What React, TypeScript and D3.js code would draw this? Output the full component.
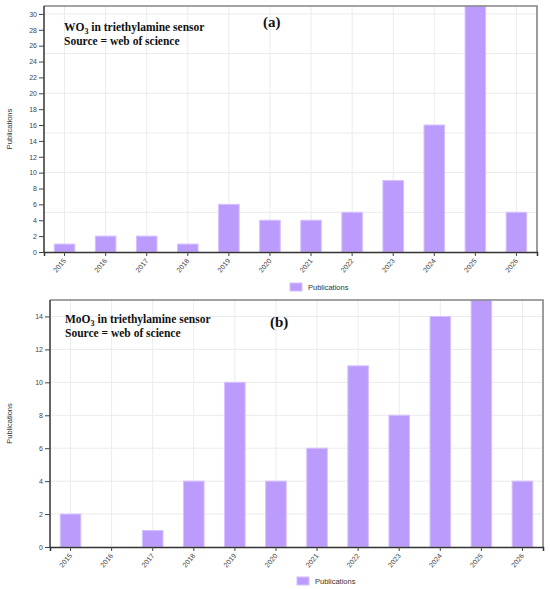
import React, { useEffect, useRef } from 'react';
import * as d3 from 'd3';

const years = ['2015', '2016', '2017', '2018', '2019', '2020', '2021', '2022', '2023', '2024', '2025', '2026'];
const wo3Counts = [1, 2, 2, 1, 6, 4, 4, 5, 9, 16, 31, 5];
const moo3Counts = [2, 0, 1, 4, 10, 4, 6, 11, 8, 14, 15, 4];

const wo3Ticks = d3.range(0, 31, 2);
const wo3Grid = [5, 10, 15, 20, 25, 30];
const moo3Ticks = d3.range(0, 15, 2);
const moo3Grid = d3.range(2, 15, 2);

const seriesName = 'Publications';
const sourceLine = 'Source = web of science';

interface PanelProps {
  values: number[];
  maxY: number;
  ticks: number[];
  grid: number[];
  left: number;
  right: number;
  top: number;
  bottom: number;
  oxide: string;
  letter: string;
  titleX: number;
  titleY: number;
  letterX: number;
  letterY: number;
  legendX: number;
  legendY: number;
}

const BAR_FILL = '#bb9cfc';
const BAR_STROKE = '#d4c0ff';

function drawPanel(root: d3.Selection<SVGGElement, unknown, null, undefined>, p: PanelProps) {
  const x = d3.scaleBand<string>().domain(years).range([p.left, p.right]).paddingInner(0.5).paddingOuter(0.25);
  const y = d3.scaleLinear().domain([0, p.maxY]).range([p.bottom, p.top]);

  const g = root.append('g');

  // light grid
  g.selectAll('.hgrid')
    .data(p.grid)
    .enter().append('line')
    .attr('x1', p.left).attr('x2', p.right)
    .attr('y1', d => y(d)).attr('y2', d => y(d))
    .attr('stroke', '#ebebeb').attr('stroke-width', 1);

  g.selectAll('.vgrid')
    .data(years)
    .enter().append('line')
    .attr('x1', d => x(d)! + x.bandwidth() / 2).attr('x2', d => x(d)! + x.bandwidth() / 2)
    .attr('y1', p.top).attr('y2', p.bottom)
    .attr('stroke', '#ebebeb').attr('stroke-width', 1);

  // bars
  g.selectAll('.bar')
    .data(p.values)
    .enter().append('rect')
    .attr('x', (d, i) => x(years[i])!)
    .attr('y', d => y(d))
    .attr('width', x.bandwidth())
    .attr('height', d => p.bottom - y(d))
    .attr('fill', BAR_FILL)
    .attr('stroke', d => (d > 0 ? BAR_STROKE : 'none'))
    .attr('stroke-width', 1);

  // top and right border
  g.append('path')
    .attr('d', `M${p.left},${p.top} H${p.right} V${p.bottom}`)
    .attr('fill', 'none')
    .attr('stroke', '#858585')
    .attr('stroke-width', 1.6);

  // axes
  const yAxis = g.append('g')
    .attr('transform', `translate(${p.left},0)`)
    .call(d3.axisLeft(y).tickValues(p.ticks).tickSize(5).tickSizeOuter(0).tickFormat(d3.format('d')));
  yAxis.select('.domain').attr('stroke', '#333').attr('stroke-width', 1.5)
    .attr('d', `M0,${p.top}V${p.bottom}`);
  yAxis.selectAll('.tick line').attr('stroke', '#444');
  yAxis.selectAll('.tick text')
    .attr('fill', '#444')
    .attr('x', -7)
    .style('font-family', 'Liberation Sans, Arial, sans-serif')
    .style('font-size', '7px');

  const xAxis = g.append('g')
    .attr('transform', `translate(0,${p.bottom})`)
    .call(d3.axisBottom(x).tickSize(4).tickSizeOuter(4));
  xAxis.select('.domain').attr('stroke', '#333').attr('stroke-width', 1.5);
  xAxis.selectAll('.tick line').attr('stroke', '#444');
  xAxis.selectAll('.tick text')
    .attr('fill', '#444')
    .attr('y', 0)
    .attr('dy', 0)
    .attr('text-anchor', 'end')
    .attr('transform', 'translate(2,9) rotate(-50)')
    .style('font-family', 'Liberation Sans, Arial, sans-serif')
    .style('font-size', '7px');

  // y label
  g.append('text')
    .attr('transform', `translate(${12},${(p.top + p.bottom) / 2}) rotate(-90)`)
    .attr('text-anchor', 'middle')
    .attr('fill', '#333')
    .style('font-family', 'Liberation Sans, Arial, sans-serif')
    .style('font-size', '7.5px')
    .text(seriesName);

  // title block
  const title = g.append('text')
    .attr('x', p.titleX)
    .attr('y', p.titleY)
    .attr('fill', '#111')
    .style('font-family', 'Liberation Serif, Times New Roman, serif')
    .style('font-weight', 'bold')
    .style('font-size', '11.5px');
  title.append('tspan').text(p.oxide);
  title.append('tspan').attr('dy', 3).style('font-size', '8px').text('3');
  title.append('tspan').attr('dy', -3).text(' in triethylamine sensor');

  g.append('text')
    .attr('x', p.titleX)
    .attr('y', p.titleY + 14.5)
    .attr('fill', '#111')
    .style('font-family', 'Liberation Serif, Times New Roman, serif')
    .style('font-weight', 'bold')
    .style('font-size', '11.5px')
    .text(sourceLine);

  g.append('text')
    .attr('x', p.letterX)
    .attr('y', p.letterY)
    .attr('fill', '#111')
    .style('font-family', 'Liberation Serif, Times New Roman, serif')
    .style('font-weight', 'bold')
    .style('font-size', '15px')
    .text(`(${p.letter})`);

  // legend
  g.append('rect')
    .attr('x', p.legendX)
    .attr('y', p.legendY)
    .attr('width', 12)
    .attr('height', 8)
    .attr('fill', BAR_FILL)
    .attr('stroke', BAR_STROKE);
  g.append('text')
    .attr('x', p.legendX + 18)
    .attr('y', p.legendY + 7)
    .attr('fill', '#333')
    .style('font-family', 'Liberation Sans, Arial, sans-serif')
    .style('font-size', '7.5px')
    .text(seriesName);
}

const App: React.FC = () => {
  const ref = useRef<SVGSVGElement>(null);

  useEffect(() => {
    document.body.style.margin = '0';
    const svg = d3.select(ref.current);
    svg.selectAll('*').remove();
    const root = svg.append('g') as unknown as d3.Selection<SVGGElement, unknown, null, undefined>;

    drawPanel(root, {
      values: wo3Counts, maxY: 31, ticks: wo3Ticks, grid: wo3Grid,
      left: 44, right: 537, top: 6, bottom: 252,
      oxide: 'WO', letter: 'a',
      titleX: 64, titleY: 30.5, letterX: 263, letterY: 27,
      legendX: 290, legendY: 283,
    });

    drawPanel(root, {
      values: moo3Counts, maxY: 15, ticks: moo3Ticks, grid: moo3Grid,
      left: 50, right: 543, top: 300, bottom: 547,
      oxide: 'MoO', letter: 'b',
      titleX: 65, titleY: 322.5, letterX: 270, letterY: 327,
      legendX: 297, legendY: 577,
    });
  }, []);

  return (
    <svg ref={ref} width={550} height={589} style={{ display: 'block', background: '#fff' }}></svg>
  );
};

export default App;
